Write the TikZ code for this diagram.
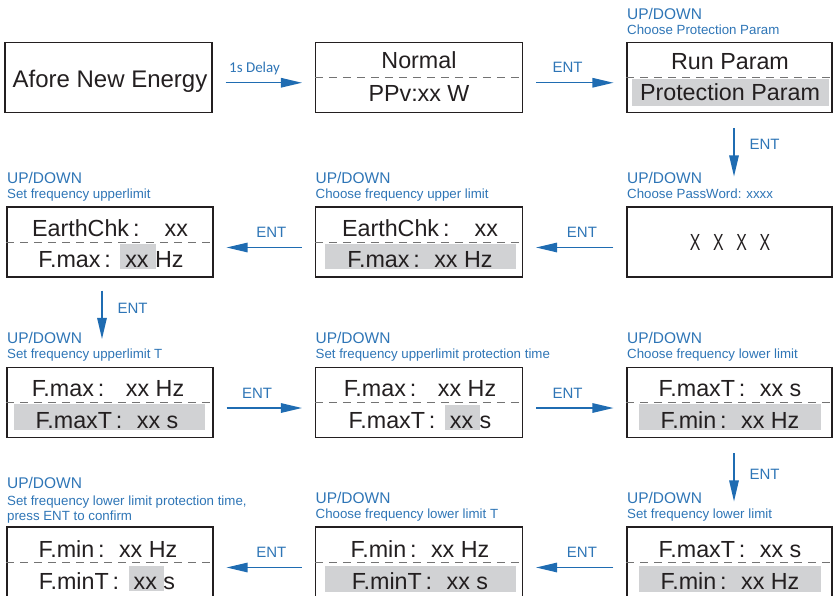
\documentclass[tikz,border=0pt]{standalone}
\usepackage{fontspec}
\usepackage{graphicx}
\setmainfont{Liberation Sans}
\newfontfamily\calibrifont{Carlito}
\usetikzlibrary{arrows.meta}
\definecolor{txtblue}{RGB}{46,117,182}
\definecolor{arrblue}{RGB}{31,108,178}
\definecolor{hlgray}{RGB}{209,210,212}
\definecolor{ink}{RGB}{35,31,32}
\newcommand\fc[1][0.62em]{\,:\hspace{#1}}
\newcommand\hlx[1]{\setbox0\hbox{#1}\rlap{\hspace{-5pt}\textcolor{hlgray}{\rule[-2pt]{\dimexpr\wd0+12pt\relax}{25pt}}}#1}
\tikzset{
  box/.style={draw=ink, line width=1.1pt, minimum height=70pt, inner sep=0pt},
  big/.style={font=\fontsize{23.3}{27}\selectfont, text=ink, inner sep=0pt, anchor=base},
  up/.style={font=\fontsize{15.5}{18}\selectfont, text=txtblue, inner sep=0pt, anchor=base west, xshift=0.5pt},
  desc/.style={font=\fontsize{13.3}{15.5}\selectfont, text=txtblue, inner sep=0pt, anchor=base west, xshift=0.5pt},
  sep/.style={draw=gray!90!black, dash pattern=on 8pt off 6pt, line width=0.9pt},
  arr/.style={draw=arrblue, line width=1.3pt, -{Triangle[length=21pt,width=9.5pt]}, shorten <=13pt, shorten >=13pt},
  lab/.style={font=\fontsize{15}{18}\selectfont, text=txtblue, inner sep=0pt}
}
\begin{document}
\begin{tikzpicture}[x=1pt,y=-1pt]
\useasboundingbox (0,0) rectangle (833,595);

% boxes
\node[box, minimum width=207pt] (A) at (108.5,77.25) {};
\node[box, minimum width=207pt] (B) at (419,77.25) {};
\node[box, minimum width=205pt] (C) at (729.5,77.25) {};
\node[box, minimum width=206pt] (D) at (110,242) {};
\node[box, minimum width=207pt] (E) at (419,242) {};
\node[box, minimum width=205pt] (F) at (729.5,242) {};
\node[box, minimum width=206pt] (G) at (110,402.5) {};
\node[box, minimum width=207pt] (H) at (419,402.5) {};
\node[box, minimum width=205pt] (I) at (729.5,402.5) {};
\node[box, minimum width=206pt] (J) at (110,562) {};
\node[box, minimum width=207pt] (K) at (419,562) {};
\node[box, minimum width=205pt] (L) at (729.5,562) {};

% separators
\foreach \n in {B,C,D,E,G,H,I,J,K,L} \draw[sep] (\n.west) -- (\n.east);

% highlights
\fill[hlgray] (632,79) rectangle (829,106);
\fill[hlgray] (325,244) rectangle (516,269);
\fill[hlgray] (14,404) rectangle (205,430);
\fill[hlgray] (639,404) rectangle (821,430);
\fill[hlgray] (325,566) rectangle (516,592);
\fill[hlgray] (639,566) rectangle (821,592);

% box texts
\node[big, font=\fontsize{24}{28}\selectfont] (A1) at (110,87) {Afore New Energy};
\node[big] (B1) at (419,68) {Normal};
\node[big] (B2) at (419,101) {PPv:xx W};
\node[big] (C1) at (730,69) {Run Param};
\node[big] (C2) at (730,100) {Protection Param};

\node[big] (D1) at (110,236) {EarthChk\fc[1.08em]xx};
\node[big] (D2) at (111,267) {F.max\fc\hlx{xx} Hz};
\node[big] (E1) at (420,236) {EarthChk\fc[1.08em]xx};
\node[big] (E2) at (420,267) {F.max\fc xx Hz};
\node[big] (F1) at (730,250) {\scalebox{0.68}[1]{\spaceskip=0.8em X X X X}};

\node[big] (G1) at (108,396) {F.max\fc[0.93em]xx Hz};
\node[big] (G2) at (107,428) {F.maxT\fc xx s};
\node[big] (H1) at (420,396) {F.max\fc[0.93em]xx Hz};
\node[big] (H2) at (420,428) {F.maxT\fc\hlx{xx} s};
\node[big] (I1) at (730,396) {F.maxT\fc xx s};
\node[big] (I2) at (730,428) {F.min\fc xx Hz};

\node[big] (J1) at (108,557) {F.min\fc xx Hz};
\node[big] (J2) at (107,589) {F.minT\fc\hlx{xx} s};
\node[big] (K1) at (420,557) {F.min\fc xx Hz};
\node[big] (K2) at (420,589) {F.minT\fc xx s};
\node[big] (L1) at (730,557) {F.maxT\fc xx s};
\node[big] (L2) at (730,589) {F.min\fc xx Hz};

% blue captions
\node[up] (Cu) at ([yshift=22pt]C.north west) {UP/DOWN};
\node[desc] (Cd) at ([yshift=7pt]C.north west) {Choose Protection Param};
\node[up] (Du) at ([yshift=23pt]D.north west) {UP/DOWN};
\node[desc] (Dd) at ([yshift=8pt]D.north west) {Set frequency upperlimit};
\node[up] (Eu) at ([yshift=23pt]E.north west) {UP/DOWN};
\node[desc] (Ed) at ([yshift=8pt]E.north west) {Choose frequency upper limit};
\node[up] (Fu) at ([yshift=23pt]F.north west) {UP/DOWN};
\node[desc] (Fd) at ([yshift=8pt]F.north west) {Choose PassWord: xxxx};
\node[up] (Gu) at ([yshift=23pt]G.north west) {UP/DOWN};
\node[desc] (Gd) at ([yshift=8pt]G.north west) {Set frequency upperlimit T};
\node[up] (Hu) at ([yshift=23pt]H.north west) {UP/DOWN};
\node[desc] (Hd) at ([yshift=8pt]H.north west) {Set frequency upperlimit protection time};
\node[up] (Iu) at ([yshift=23pt]I.north west) {UP/DOWN};
\node[desc] (Id) at ([yshift=8pt]I.north west) {Choose frequency lower limit};
\node[up] (Ju) at ([yshift=38pt]J.north west) {UP/DOWN};
\node[desc] (Jd) at ([yshift=21pt]J.north west) {Set frequency lower limit protection time,};
\node[desc] (Je) at ([yshift=6pt]J.north west) {press ENT to confirm};
\node[up] (Ku) at ([yshift=23pt]K.north west) {UP/DOWN};
\node[desc] (Kd) at ([yshift=8pt]K.north west) {Choose frequency lower limit T};
\node[up] (Lu) at ([yshift=23pt]L.north west) {UP/DOWN};
\node[desc] (Ld) at ([yshift=8pt]L.north west) {Set frequency lower limit};

% horizontal arrows
\draw[arr] ([yshift=-5.5pt]A.east) -- node[lab, pos=0.41, yshift=14pt, font=\calibrifont\fontsize{15}{18}\selectfont] (t1) {1s Delay} ([yshift=-5.5pt]B.west);
\draw[arr] ([yshift=-5.5pt]B.east) -- node[lab, pos=0.43, yshift=15pt] (t2) {ENT} ([yshift=-5.5pt]C.west);
\draw[arr] ([yshift=-5.5pt]F.west) -- node[lab, pos=0.43, yshift=15pt] (t4) {ENT} ([yshift=-5.5pt]E.east);
\draw[arr] ([yshift=-5.5pt]E.west) -- node[lab, pos=0.43, yshift=15pt] (t5) {ENT} ([yshift=-5.5pt]D.east);
\draw[arr] ([yshift=-5.5pt]G.east) -- node[lab, pos=0.43, yshift=15pt] (t7) {ENT} ([yshift=-5.5pt]H.west);
\draw[arr] ([yshift=-5.5pt]H.east) -- node[lab, pos=0.43, yshift=15pt] (t8) {ENT} ([yshift=-5.5pt]I.west);
\draw[arr] ([yshift=-5.5pt]L.west) -- node[lab, pos=0.43, yshift=15pt] (t10) {ENT} ([yshift=-5.5pt]K.east);
\draw[arr] ([yshift=-5.5pt]K.west) -- node[lab, pos=0.43, yshift=15pt] (t11) {ENT} ([yshift=-5.5pt]J.east);

% vertical arrows
\draw[arr, shorten <=15pt, shorten >=30pt] ([xshift=4.5pt]C.south) -- node[lab, pos=0.34, anchor=west, xshift=15pt] (t3) {ENT} ([xshift=4.5pt]F.north);
\draw[arr, shorten <=13pt, shorten >=28pt] ([xshift=-8pt]D.south) -- node[lab, pos=0.34, anchor=west, xshift=15pt] (t6) {ENT} ([xshift=-8pt]G.north);
\draw[arr, shorten <=15pt, shorten >=25pt] ([xshift=4.5pt]I.south) -- node[lab, pos=0.41, anchor=west, xshift=15pt] (t9) {ENT} ([xshift=4.5pt]L.north);
\end{tikzpicture}
\end{document}
